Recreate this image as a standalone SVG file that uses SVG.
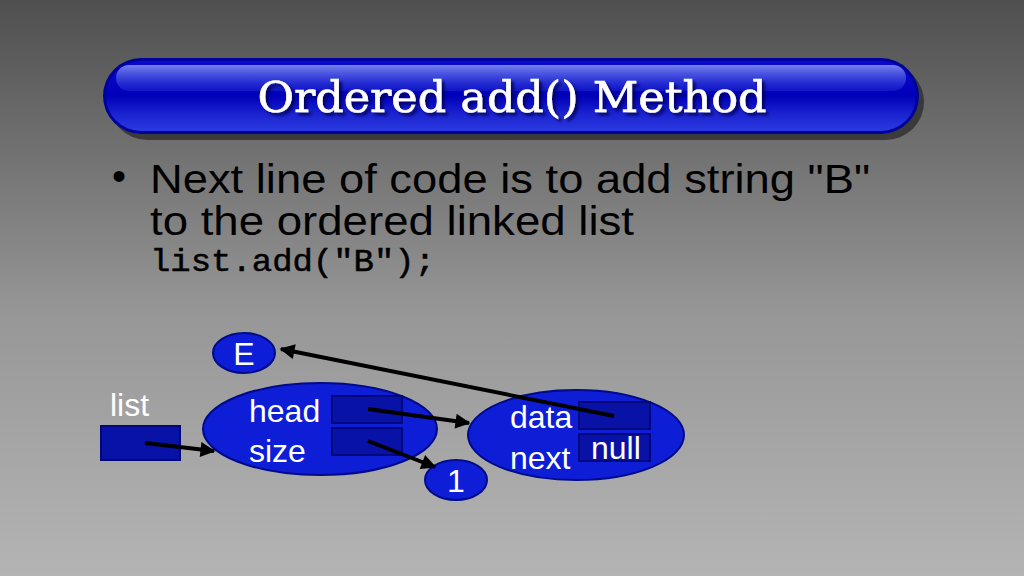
<svg xmlns="http://www.w3.org/2000/svg" width="1024" height="576" viewBox="0 0 1024 576">
<defs>
  <linearGradient id="bg" x1="0" y1="0" x2="0" y2="1">
    <stop offset="0" stop-color="#4f4f4f"/>
    <stop offset="0.55" stop-color="#979797"/>
    <stop offset="1" stop-color="#b4b4b4"/>
  </linearGradient>
  <linearGradient id="bar" x1="0" y1="0" x2="0" y2="1">
    <stop offset="0" stop-color="#0a0ad0"/>
    <stop offset="0.5" stop-color="#0000b8"/>
    <stop offset="0.75" stop-color="#1a22d0"/>
    <stop offset="1" stop-color="#2a3ae0"/>
  </linearGradient>
  <linearGradient id="hl" x1="0" y1="0" x2="0" y2="1">
    <stop offset="0" stop-color="#8090f0" stop-opacity="0.9"/>
    <stop offset="1" stop-color="#3040e0" stop-opacity="0.3"/>
  </linearGradient>
  <marker id="ah" viewBox="0 0 10 10" refX="9" refY="5" markerWidth="18" markerHeight="15" markerUnits="userSpaceOnUse" orient="auto">
    <path d="M0,0 L10,5 L0,10 z" fill="#000"/>
  </marker>
  <filter id="ts" x="-5%" y="-20%" width="110%" height="140%">
    <feDropShadow dx="3" dy="3" stdDeviation="1.5" flood-color="#000050" flood-opacity="0.8"/>
  </filter>
</defs>
<style>
  .ell { fill:#0d1ed6; stroke:#000a8a; stroke-width:2; }
  .box { fill:#0812a6; stroke:#00087a; stroke-width:2; }
  .lbl { font-family:"Liberation Sans", Arial, sans-serif; font-size:32px; fill:#fff; }
  .body { font-family:"Liberation Sans", Arial, sans-serif; font-size:40px; fill:#000; }
  .code { font-family:"Liberation Mono", "Courier New", monospace; font-size:32px; fill:#000; stroke:#000; stroke-width:0.5; }
  .arr { stroke:#000; stroke-width:4; fill:none; marker-end:url(#ah); }
</style>
<rect x="0" y="0" width="1024" height="576" fill="url(#bg)"/>

<g id="title">
  <rect x="109" y="64" width="815" height="76" rx="38" fill="#2e2e2e" opacity="0.8"/>
  <rect x="103" y="58" width="816" height="76" rx="38" fill="#00009a"/>
  <rect x="106" y="61" width="810" height="70" rx="35" fill="url(#bar)"/>
  <rect x="116" y="65" width="790" height="26" rx="13" fill="url(#hl)"/>
  <text x="512" y="112" text-anchor="middle" textLength="509" lengthAdjust="spacingAndGlyphs" font-family="'DejaVu Serif', 'Liberation Serif', serif" font-size="42" fill="#fff" stroke="#fff" stroke-width="0.6" filter="url(#ts)">Ordered add() Method</text>
</g>

<g id="bullet">
  <text x="112" y="190" class="body">•</text>
  <text x="150" y="193" class="body" textLength="720" lengthAdjust="spacingAndGlyphs">Next line of code is to add string "B"</text>
  <text x="150" y="235" class="body" textLength="484" lengthAdjust="spacingAndGlyphs">to the ordered linked list</text>
  <text x="150" y="271" class="code" textLength="285" lengthAdjust="spacingAndGlyphs">list.add("B");</text>
</g>

<g id="node-E">
  <ellipse cx="244" cy="353" rx="31" ry="20" class="ell"/>
  <text x="244" y="365" class="lbl" text-anchor="middle">E</text>
</g>

<g id="node-list">
  <text x="110" y="416" class="lbl">list</text>
  <rect x="101" y="426" width="79" height="34" class="box"/>
</g>

<g id="node-listobj">
  <ellipse cx="320" cy="429" rx="117" ry="46" class="ell"/>
  <text x="249" y="422" class="lbl">head</text>
  <text x="249" y="462" class="lbl">size</text>
  <rect x="332" y="396" width="70" height="27" class="box"/>
  <rect x="332" y="428" width="70" height="27" class="box"/>
</g>

<g id="node-one">
  <ellipse cx="456" cy="480" rx="31" ry="20" class="ell"/>
  <text x="456" y="492" class="lbl" text-anchor="middle">1</text>
</g>

<g id="node-linear">
  <ellipse cx="576" cy="435" rx="108" ry="45" class="ell"/>
  <text x="510" y="428" class="lbl">data</text>
  <text x="510" y="469" class="lbl">next</text>
  <rect x="579" y="402" width="71" height="27" class="box"/>
  <rect x="579" y="434" width="71" height="27" class="box"/>
  <text x="591" y="459" class="lbl">null</text>
</g>

<g id="connectors">
  <line x1="145" y1="443" x2="214" y2="451" class="arr"/>
  <line x1="368" y1="409" x2="469" y2="423" class="arr"/>
  <line x1="368" y1="441" x2="435" y2="467" class="arr"/>
  <line x1="614" y1="416" x2="281" y2="349" class="arr"/>
</g>
</svg>
